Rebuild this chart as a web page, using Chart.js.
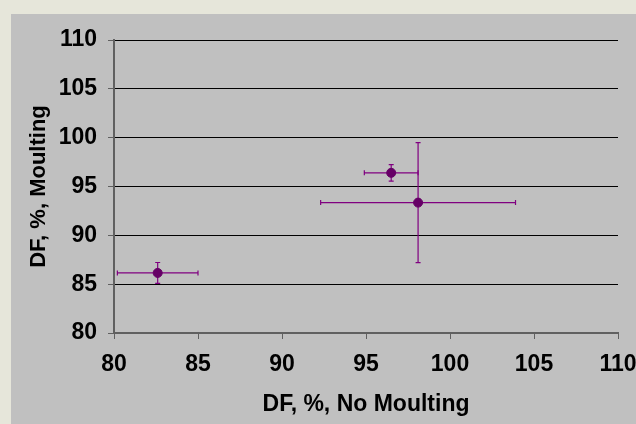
<!DOCTYPE html>
<html>
<head>
<meta charset="utf-8">
<script src="https://cdn.jsdelivr.net/npm/chart.js@4"></script>
<style>
html,body{margin:0;padding:0;background:#E6E6DA;}
#wrap{width:636px;height:424px;position:relative;}
canvas{display:block;}
</style>
</head>
<body>
<div id="wrap"><canvas id="c" width="636" height="424"></canvas></div>
<script>
const xValues = [96.5, 98.1, 82.6];
const yValues = [96.4, 93.35, 86.15];
const xErrors = [1.6, 5.8, 2.4];
const yErrors = [0.85, 6.15, 1.07];
const xTickLabels = ['80','85','90','95','100','105','110'];
const yTickLabels = ['80','85','90','95','100','105','110'];
const xTitle = 'DF, %, No Moulting';
const yTitle = 'DF, %, Moulting';

const points = xValues.map((x, i) => ({x: x, y: yValues[i], xe: xErrors[i], ye: yErrors[i]}));

const bgPlugin = {
  id: 'bg',
  beforeDraw(chart) {
    const c = chart.ctx;
    c.save();
    c.fillStyle = '#E6E6DA';
    c.fillRect(0, 0, chart.width, chart.height);
    c.fillStyle = '#C0C0C0';
    c.fillRect(11, 14, chart.width - 11, chart.height - 14);
    c.restore();
  }
};

const errPlugin = {
  id: 'errbars',
  beforeDatasetsDraw(chart) {
    const c = chart.ctx;
    const xs = chart.scales.x, ys = chart.scales.y;
    const cap = 2.5;
    c.save();
    c.strokeStyle = '#800080';
    c.lineWidth = 1.2;
    chart.data.datasets[0].data.forEach(p => {
      const px = xs.getPixelForValue(p.x), py = ys.getPixelForValue(p.y);
      const xl = xs.getPixelForValue(p.x - p.xe), xr = xs.getPixelForValue(p.x + p.xe);
      const yt = ys.getPixelForValue(p.y + p.ye), yb = ys.getPixelForValue(p.y - p.ye);
      c.beginPath();
      c.moveTo(xl, py); c.lineTo(xr, py);
      c.moveTo(xl, py - cap); c.lineTo(xl, py + cap);
      c.moveTo(xr, py - cap); c.lineTo(xr, py + cap);
      c.moveTo(px, yt); c.lineTo(px, yb);
      c.moveTo(px - cap, yt); c.lineTo(px + cap, yt);
      c.moveTo(px - cap, yb); c.lineTo(px + cap, yb);
      c.stroke();
    });
    c.restore();
  }
};

const font = {family: '"Liberation Sans", Arial, sans-serif', size: 23, weight: 'bold'};
const yTitleFont = {family: '"Liberation Sans", Arial, sans-serif', size: 22, weight: 'bold'};

new Chart(document.getElementById('c'), {
  type: 'scatter',
  data: {
    datasets: [{
      data: points,
      backgroundColor: '#660066',
      borderColor: '#660066',
      pointRadius: 4.5,
      pointHoverRadius: 4.5
    }]
  },
  options: {
    responsive: false,
    animation: false,
    devicePixelRatio: 1,
    layout: {padding: {left: 0, right: 18, top: 40, bottom: 0}},
    plugins: {legend: {display: false}, tooltip: {enabled: false}},
    scales: {
      x: {
        type: 'linear',
        min: 80, max: 110,
        afterFit(s) { s.height = 91; s.paddingLeft = 0; s.paddingRight = 0; },
        afterBuildTicks(s) { s.ticks = xTickLabels.map(v => ({value: Number(v)})); },
        ticks: {
          stepSize: 5,
          color: '#000',
          font: font,
          padding: 12,
          maxRotation: 0,
          autoSkip: false,
          callback: (v, i) => xTickLabels[i]
        },
        grid: {drawOnChartArea: false, drawTicks: true, tickLength: 6, tickColor: '#606060', tickWidth: 1},
        border: {display: true, color: '#606060', width: 2},
        title: {display: true, text: xTitle, color: '#000', font: font, padding: {top: 0, bottom: 6}}
      },
      y: {
        type: 'linear',
        min: 80, max: 110,
        afterFit(s) { s.width = 114; s.paddingTop = 0; s.paddingBottom = 0; },
        afterBuildTicks(s) { s.ticks = yTickLabels.map(v => ({value: Number(v)})); },
        ticks: {
          stepSize: 5,
          color: '#000',
          font: font,
          padding: 11,
          autoSkip: false,
          callback: (v, i) => yTickLabels[i]
        },
        grid: {
          drawOnChartArea: true,
          drawTicks: true,
          tickLength: 6,
          tickColor: '#606060',
          color: ctx => (ctx.tick && ctx.tick.value === 80) ? 'rgba(0,0,0,0)' : '#000',
          lineWidth: 1
        },
        border: {display: true, color: '#606060', width: 2},
        title: {display: true, text: yTitle, color: '#000', font: yTitleFont, padding: {top: 26, bottom: 0}}
      }
    }
  },
  plugins: [bgPlugin, errPlugin]
});
</script>
</body>
</html>
